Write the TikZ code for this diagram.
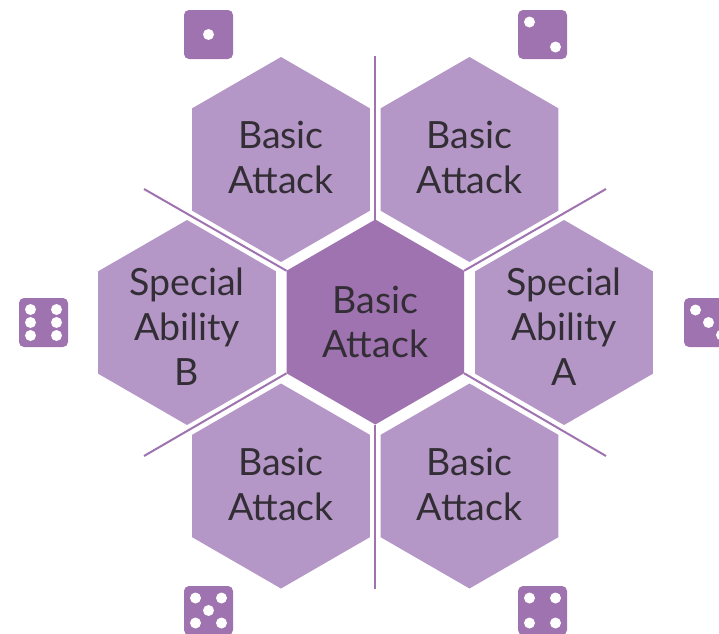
\documentclass[tikz,border=0pt]{standalone}
\usepackage{fontspec}
\setmainfont{Lato}
\usetikzlibrary{shapes.geometric}
\definecolor{hexlight}{HTML}{B497C6}
\definecolor{hexdark}{HTML}{9F72B0}
\definecolor{inktext}{HTML}{332E36}
\tikzset{
  hexcell/.style={regular polygon,regular polygon sides=6,shape border rotate=30,minimum size=205pt,inner sep=0pt,outer sep=0pt,
    fill=hexlight,text=inktext,align=center,font=\fontsize{37.5}{44.7}\selectfont},
  hexcentre/.style={hexcell,fill=hexdark},
  divider/.style={draw=hexdark,line width=2pt},
  diebox/.style={rectangle,rounded corners=5pt,minimum size=49pt,inner sep=0pt,outer sep=0pt,fill=hexdark},
  pip/.style={circle,fill=white,minimum size=11pt,inner sep=0pt,outer sep=0pt},
}
\newcommand{\pips}[2]{\foreach \dx/\dy in {#2} \node[pip] at ([shift={(\dx,\dy)}]#1.center) {};}
% extra room above or below a block of lines moves it slightly off the node centre
\newcommand{\roomabove}[1]{\rule{0pt}{#1}}
\newcommand{\roombelow}[1]{\rule[-#1]{0pt}{#1}}
\begin{document}
\begin{tikzpicture}[x=1pt,y=-1pt]
\useasboundingbox (0,0) rectangle (719,633);
% hexagons
\node[hexcentre] (c) at (375.3,322) {Basic\\Attack};
\node[hexcell] (tl) at (281,159.5) {Basic\\Attack\roombelow{4pt}};
\node[hexcell] (tr) at (469.5,159.5) {Basic\\Attack\roombelow{4pt}};
\node[hexcell] (r) at (564,322.5) {\roomabove{36pt}Special\\Ability\\A};
\node[hexcell] (l) at (187,322.5) {\roomabove{36pt}Special\\Ability\\B};
\node[hexcell] (bl) at (281,486) {Basic\\Attack\roombelow{4pt}};
\node[hexcell] (br) at (469.5,486) {Basic\\Attack\roombelow{4pt}};
% dividers
\coordinate (e1) at (375.3,56);
\coordinate (e2) at (606,189);
\coordinate (e3) at (606,456);
\coordinate (e4) at (375.3,589);
\coordinate (e5) at (144,456);
\coordinate (e6) at (144,189);
\draw[divider] (e1) -- (c.corner 1);
\draw[divider] (e2) -- (c.corner 6);
\draw[divider] (e3) -- (c.corner 5);
\draw[divider] (e4) -- (c.corner 4);
\draw[divider] (e5) -- (c.corner 3);
\draw[divider] (e6) -- (c.corner 2);
% dice
\node[diebox] (d1) at (208.5,34.5) {};
\pips{d1}{0/0}
\node[diebox] (d2) at (542.5,34.5) {};
\pips{d2}{-13/-12.5,13/12.5}
\node[diebox] (d3) at (708.5,322.5) {};
\pips{d3}{-13/-12.5,0/0,13/12.5}
\node[diebox] (d4) at (542.5,610.5) {};
\pips{d4}{-13/-12.5,13/-12.5,-13/12.5,13/12.5}
\node[diebox] (d5) at (208.5,610.5) {};
\pips{d5}{-13/-12.5,13/-12.5,0/0,-13/12.5,13/12.5}
\node[diebox] (d6) at (43.5,322.5) {};
\pips{d6}{-13/-13,13/-13,-13/0,13/0,-13/13,13/13}
\end{tikzpicture}
\end{document}
